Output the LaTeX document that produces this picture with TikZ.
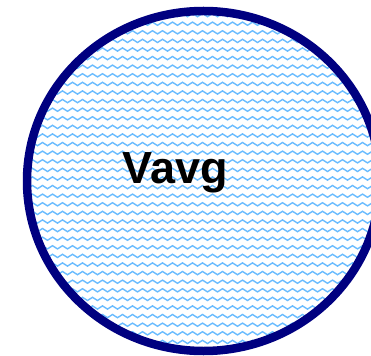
\documentclass[tikz,border=0pt]{standalone}
\usepackage{fontspec}
\setmainfont{Liberation Sans}
\usetikzlibrary{shapes.geometric}
\definecolor{rimnavy}{RGB}{0,0,128}
\definecolor{wavecol}{RGB}{105,188,255}
\tikzset{
  waveline/.style={draw=wavecol, line width=1.4pt},
  blobstyle/.style={ellipse, inner sep=0pt, outer sep=0pt, draw=rimnavy, line width=8.5pt, fill=white},
  labelstyle/.style={anchor=base, inner sep=0pt, font=\fontsize{45}{54}\selectfont\bfseries, text=black}
}
\begin{document}
\begin{tikzpicture}[x=1pt,y=-1pt]
\useasboundingbox (0,0) rectangle (371,355);
\node (blob) [blobstyle, minimum width=353pt, minimum height=340pt,
  path picture={
    \foreach \r in {0,...,40} {
      \draw[waveline] (-183.5,{-174.5+\r*8.6})
        \foreach \i in {1,...,37} { sin ++(2.5,-1.6) cos ++(2.5,1.6) sin ++(2.5,1.6) cos ++(2.5,-1.6) };
    }
  }] at (203.5,181) {};
\node (label) [labelstyle] at (175.5,183) {Vavg};
\end{tikzpicture}
\end{document}
